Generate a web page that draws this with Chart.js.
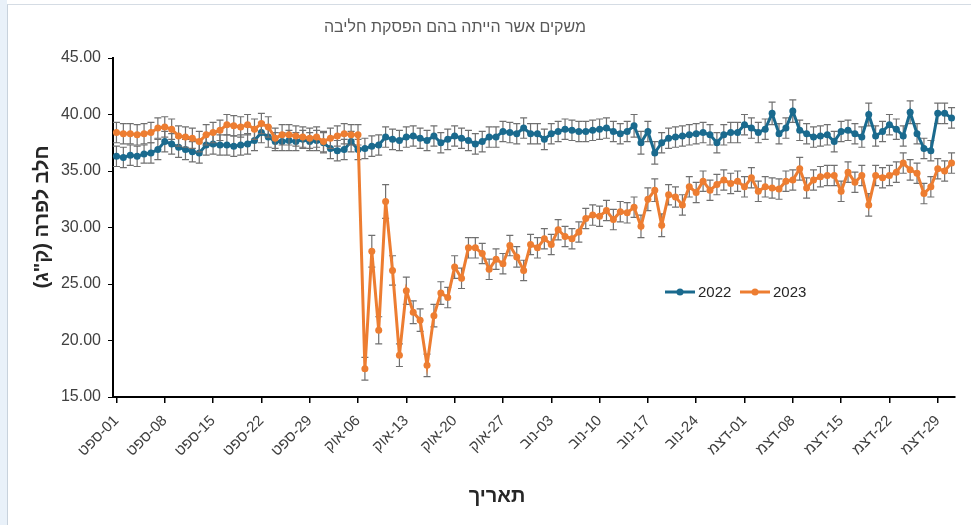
<!DOCTYPE html>
<html>
<head>
<meta charset="utf-8">
<script src="https://cdn.jsdelivr.net/npm/chart.js@4.4.1/dist/chart.umd.min.js"></script>
<style>
html, body { margin: 0; padding: 0; background: #fff; }
body { width: 971px; height: 525px; overflow: hidden; position: relative; }
#strip { position: absolute; left: 0; top: 0; width: 7px; height: 525px; background: #e9f1f9; }
#frame { position: absolute; left: 7px; top: 4px; width: 964px; height: 521px; box-sizing: border-box;
         border-left: 1px solid #c8d2dc; border-top: 1px solid #d5dce4; }
#frame canvas { position: absolute; left: 0; top: 0; }
</style>
</head>
<body>
<div id="strip"></div>
<div id="frame"><canvas id="milkChart" dir="rtl" width="963" height="520"></canvas></div>
<script>
var chartTitle = 'משקים אשר הייתה בהם הפסקת חליבה';
var yTitle = 'חלב לפרה (ק"ג)';
var xTitle = 'תאריך';

// daily categories 01-ספט .. 31-דצמ
var months = ['ספט', 'אוק', 'נוב', 'דצמ'];
var monthDays = [30, 31, 30, 31];
var dates = [];
months.forEach(function (m, k) {
    for (var d = 1; d <= monthDays[k]; d++) {
        dates.push((d < 10 ? '0' : '') + d + '-' + m);
    }
});

var tickDates = ['01-ספט', '08-ספט', '15-ספט', '22-ספט', '29-ספט', '06-אוק', '13-אוק', '20-אוק', '27-אוק',
    '03-נוב', '10-נוב', '17-נוב', '24-נוב', '01-דצמ', '08-דצמ', '15-דצמ', '22-דצמ', '29-דצמ'];
var yTicks = [15, 20, 25, 30, 35, 40, 45];

var milk2022 = [
    36.3, 36.2, 36.4, 36.3, 36.5, 36.6, 36.9, 37.6, 37.4, 37.1,
    36.9, 36.7, 36.6, 37.3, 37.4, 37.3, 37.3, 37.2, 37.3, 37.4,
    37.7, 38.4, 38.0, 37.6, 37.6, 37.7, 37.6, 37.8, 37.6, 37.7,
    37.5, 37.0, 36.8, 36.9, 37.6, 36.9, 37.0, 37.2, 37.3, 38.0,
    37.8, 37.7, 38.0, 38.1, 37.9, 37.7, 38.1, 37.5, 37.8, 38.1,
    37.9, 37.7, 37.4, 37.6, 38.0, 38.0, 38.5, 38.4, 38.3, 38.8,
    38.3, 38.3, 37.8, 38.3, 38.5, 38.7, 38.6, 38.5, 38.5, 38.6,
    38.7, 38.8, 38.5, 38.3, 38.5, 39.0, 37.5, 38.5, 36.6, 37.5,
    37.9, 38.0, 38.1, 38.2, 38.3, 38.4, 38.2, 37.5, 38.2, 38.4,
    38.4, 39.1, 38.8, 38.4, 38.7, 40.1, 38.3, 38.8, 40.3, 38.6,
    38.3, 38.0, 38.1, 38.2, 37.6, 38.5, 38.6, 38.3, 38.0, 40.0,
    38.1, 38.5, 39.1, 38.7, 38.1, 40.2, 38.3, 37.0, 36.8, 40.1,
    40.1, 39.7
];
var err2022 = [
    0.9, 0.9, 0.9, 0.9, 0.8, 0.9, 0.9, 0.9, 0.9, 0.9,
    0.9, 0.9, 0.9, 0.9, 0.9, 0.9, 0.9, 0.9, 0.9, 0.9,
    0.9, 0.9, 0.9, 0.8, 0.8, 0.9, 0.8, 0.8, 0.8, 0.9,
    0.9, 0.9, 0.9, 0.9, 0.9, 0.9, 0.9, 0.9, 0.9, 0.9,
    0.9, 0.9, 0.9, 0.9, 0.9, 0.9, 0.9, 0.9, 0.9, 0.9,
    0.9, 0.9, 0.9, 0.9, 0.9, 0.9, 0.9, 0.9, 0.9, 0.9,
    0.9, 0.9, 0.9, 0.9, 0.9, 0.9, 0.9, 0.9, 0.9, 0.9,
    0.9, 0.9, 0.9, 0.9, 0.9, 1.0, 1.0, 0.9, 1.0, 0.9,
    0.9, 0.9, 0.9, 0.9, 0.9, 0.9, 0.9, 0.9, 0.9, 0.9,
    0.9, 0.9, 0.9, 0.9, 0.9, 1.0, 0.9, 0.9, 1.0, 0.9,
    0.9, 0.9, 0.9, 0.9, 0.9, 0.9, 0.9, 0.9, 0.9, 1.0,
    0.9, 0.9, 0.9, 0.9, 0.9, 1.0, 0.9, 0.9, 0.9, 0.9,
    0.9, 0.9
];
var milk2023 = [
    38.4, 38.3, 38.3, 38.2, 38.3, 38.4, 38.8, 38.9, 38.7, 38.1,
    38.0, 37.9, 37.6, 38.2, 38.4, 38.6, 39.1, 39.0, 38.9, 39.1,
    38.7, 39.2, 38.9, 37.9, 38.2, 38.2, 38.1, 38.0, 37.9, 38.0,
    37.6, 37.9, 38.1, 38.3, 38.2, 38.2, 17.5, 27.9, 20.9, 32.3,
    26.2, 18.7, 24.4, 22.5, 21.8, 17.8, 22.2, 24.2, 23.8, 26.5,
    25.5, 28.2, 28.2, 27.7, 26.3, 27.2, 26.8, 28.4, 27.4, 26.2,
    28.5, 28.2, 29.0, 28.5, 29.8, 29.2, 29.0, 29.6, 30.8, 31.1,
    31.0, 31.5, 30.7, 31.4, 31.3, 31.8, 30.1, 32.5, 33.3, 30.2,
    32.9, 32.7, 32.0, 33.6, 33.1, 34.1, 33.3, 33.8, 34.2, 33.9,
    34.1, 33.6, 34.4, 33.2, 33.6, 33.5, 33.4, 34.1, 34.2, 35.2,
    33.5, 34.2, 34.5, 34.6, 34.6, 33.2, 34.9, 34.0, 34.6, 32.0,
    34.6, 34.4, 34.6, 34.9, 35.7, 35.1, 34.8, 33.0, 33.6, 35.2,
    35.0, 35.7
];
var err2023 = [
    0.9, 0.9, 0.9, 0.9, 0.9, 0.9, 0.9, 0.9, 0.9, 0.9,
    0.9, 0.9, 0.9, 0.9, 0.9, 0.9, 0.9, 0.9, 0.9, 0.9,
    0.9, 0.9, 0.9, 0.9, 0.9, 0.9, 0.9, 0.9, 0.9, 0.9,
    0.9, 0.9, 0.9, 0.9, 0.9, 0.9, 1.0, 1.4, 1.2, 1.5,
    1.3, 1.0, 1.2, 1.0, 1.0, 1.0, 1.0, 1.0, 0.9, 1.0,
    0.9, 0.9, 0.9, 0.9, 0.9, 0.9, 0.9, 0.9, 0.9, 0.9,
    0.9, 0.9, 0.9, 0.9, 0.9, 0.9, 0.9, 0.9, 0.9, 0.9,
    0.9, 0.9, 0.9, 0.9, 0.9, 0.9, 1.0, 1.0, 1.0, 1.0,
    0.9, 0.9, 0.9, 0.9, 0.9, 0.9, 0.9, 0.9, 0.9, 0.9,
    0.9, 0.9, 0.9, 0.9, 0.9, 0.9, 0.9, 0.9, 0.9, 1.0,
    0.9, 0.9, 0.9, 0.9, 0.9, 0.9, 0.9, 0.9, 0.9, 1.0,
    0.9, 0.9, 0.9, 0.9, 0.9, 0.9, 0.9, 0.9, 0.9, 0.9,
    0.9, 0.9
];

var blue = '#1a6a8e';
var orange = '#ed7d31';
var font = '"Liberation Sans", Arial, sans-serif';

// error bars drawn under each series
var errorBars = {
    id: 'errorBars',
    beforeDatasetDraw: function (chart, args) {
        var ds = chart.data.datasets[args.index];
        var y = chart.scales.y;
        var ctx = chart.ctx;
        ctx.save();
        ctx.strokeStyle = '#707070';
        ctx.lineWidth = 1.2;
        args.meta.data.forEach(function (pt, i) {
            var top = y.getPixelForValue(ds.data[i] + ds.errors[i]);
            var bot = y.getPixelForValue(ds.data[i] - ds.errors[i]);
            ctx.beginPath();
            ctx.moveTo(pt.x, top); ctx.lineTo(pt.x, bot);
            ctx.moveTo(pt.x - 3.5, top); ctx.lineTo(pt.x + 3.5, top);
            ctx.moveTo(pt.x - 3.5, bot); ctx.lineTo(pt.x + 3.5, bot);
            ctx.stroke();
        });
        ctx.restore();
    }
};

// titles + in-plot legend
var textLayer = {
    id: 'textLayer',
    afterDraw: function (chart) {
        var ctx = chart.ctx;
        ctx.save();
        ctx.textBaseline = 'middle';
        ctx.textAlign = 'center';
        ctx.fillStyle = '#595959';
        ctx.font = '16px ' + font;
        ctx.fillText(chartTitle, 447, 23);

        ctx.fillStyle = '#262626';
        ctx.font = 'bold 20px ' + font;
        ctx.fillText(xTitle, 489, 491);
        ctx.save();
        ctx.translate(34, 212);
        ctx.rotate(-Math.PI / 2);
        ctx.fillText(yTitle, 0, 0);
        ctx.restore();

        ctx.font = '15px ' + font;
        ctx.textAlign = 'left';
        var items = [[657, chart.data.datasets[0]], [732, chart.data.datasets[1]]];
        items.forEach(function (it) {
            var x = it[0], ds = it[1], ly = 287;
            ctx.strokeStyle = ds.borderColor;
            ctx.lineWidth = 3;
            ctx.beginPath(); ctx.moveTo(x, ly); ctx.lineTo(x + 30, ly); ctx.stroke();
            ctx.fillStyle = ds.borderColor;
            ctx.beginPath(); ctx.arc(x + 15, ly, 3.5, 0, Math.PI * 2); ctx.fill();
            ctx.fillStyle = '#262626';
            ctx.fillText(ds.label, x + 33, ly + 1);
        });
        ctx.restore();
    }
};

const data = {
    labels: dates,
    datasets: [{
        label: '2022',
        data: milk2022,
        errors: err2022,
        borderColor: blue,
        backgroundColor: blue,
        borderWidth: 3,
        pointRadius: 3.5,
        pointBorderWidth: 0,
        pointHoverRadius: 3.5,
        order: 1
    }, {
        label: '2023',
        data: milk2023,
        errors: err2023,
        borderColor: orange,
        backgroundColor: orange,
        borderWidth: 3,
        pointRadius: 3.5,
        pointBorderWidth: 0,
        pointHoverRadius: 3.5,
        order: 0
    }]
};

const config = {
    type: 'line',
    data: data,
    options: {
        responsive: false,
        animation: false,
        layout: { padding: { top: 53, right: 16, bottom: 0, left: 0 } },
        plugins: {
            legend: { display: false },
            title: { display: false },
            tooltip: { enabled: false }
        },
        scales: {
            x: {
                type: 'category',
                offset: true,
                afterFit: function (scale) { scale.height = 128; },
                afterBuildTicks: function (scale) {
                    scale.ticks = scale.ticks.filter(function (t) {
                        return tickDates.indexOf(dates[t.value]) !== -1;
                    });
                },
                grid: { drawOnChartArea: false, drawTicks: true, tickLength: 6, color: '#000', lineWidth: 1.5 },
                border: { display: true, color: '#000', width: 2 },
                ticks: {
                    autoSkip: false,
                    minRotation: 45,
                    maxRotation: 45,
                    padding: 9,
                    color: '#404040',
                    font: { family: font, size: 15 }
                }
            },
            y: {
                min: 15,
                max: 45,
                afterFit: function (scale) { scale.width = 105; },
                afterBuildTicks: function (scale) {
                    scale.ticks = yTicks.map(function (v) { return { value: v }; });
                },
                grid: { drawOnChartArea: false, drawTicks: true, tickLength: 5, color: '#000', lineWidth: 1 },
                border: { display: true, color: '#000', width: 2 },
                ticks: {
                    padding: 7,
                    color: '#404040',
                    font: { family: font, size: 16 },
                    callback: function (v) { return Number(v).toFixed(2); }
                }
            }
        }
    },
    plugins: [errorBars, textLayer]
};

var myChart = new Chart(document.getElementById('milkChart'), config);
</script>
</body>
</html>
